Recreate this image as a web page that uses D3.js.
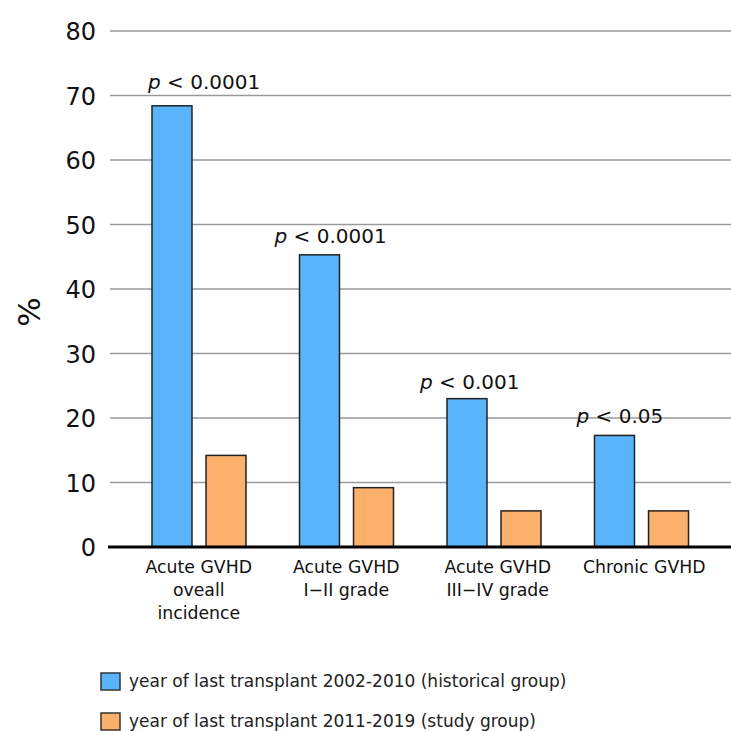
<!DOCTYPE html>
<html><head><meta charset="utf-8">
<script src="https://cdn.jsdelivr.net/npm/d3@7"></script>
<style>body{margin:0;background:#fff}svg{display:block}</style>
</head><body>
<svg id="c" width="731" height="731"></svg>
<script>
const categories = [
  ["Acute GVHD","oveall","incidence"],
  ["Acute GVHD","I\u2212II grade"],
  ["Acute GVHD","III\u2212IV grade"],
  ["Chronic GVHD"]
];
const seriesNames = [
  "year of last transplant 2002-2010 (historical group)",
  "year of last transplant 2011-2019 (study group)"
];
const historical = [68.4, 45.3, 23.0, 17.3];
const study = [14.2, 9.2, 5.6, 5.6];
const pLabels = ["< 0.0001", "< 0.0001", "< 0.001", "< 0.05"];
const yTicks = [0,10,20,30,40,50,60,70,80];

const colors = ["#5ab4fb", "#fbb06c"];
const FONT = "DejaVu Sans, Verdana, sans-serif";
const svg = d3.select("#c");
const y = d3.scaleLinear().domain([0,80]).range([547,31]);
const x0 = d3.scaleBand().domain(d3.range(categories.length)).range([125,715]);
const x1 = d3.scaleBand().domain([0,1]).range([27,121]).paddingInner(0.26);

// gridlines
svg.append("g").selectAll("line").data(yTicks.filter(d=>d>0)).join("line")
  .attr("x1",110).attr("x2",731).attr("y1",d=>y(d)).attr("y2",d=>y(d))
  .attr("stroke","#9a9a9a").attr("stroke-width",1.6);

// y axis labels
const yAxis = d3.axisLeft(y).tickValues(yTicks).tickSize(0).tickPadding(0);
const ga = svg.append("g").attr("transform","translate(96,0)").call(yAxis);
ga.select(".domain").remove();
ga.selectAll("text").attr("font-family",FONT).attr("font-size",24).attr("fill","#111").attr("dy","0.36em");

// % label
svg.append("text").attr("transform","translate(40,312) rotate(-90)").attr("text-anchor","middle")
  .attr("font-family",FONT).attr("font-size",31).attr("fill","#111").text("%");

// bars
const series = [historical, study];
const g = svg.append("g");
series.forEach((vals, si) => {
  g.append("g").selectAll("rect").data(vals).join("rect")
    .attr("x",(d,i)=>x0(i)+x1(si))
    .attr("width",x1.bandwidth())
    .attr("y",d=>y(d))
    .attr("height",d=>y(0)-y(d))
    .attr("fill",colors[si]).attr("stroke","#222").attr("stroke-width",1.5);
});

// baseline
svg.append("line").attr("x1",108).attr("x2",731).attr("y1",y(0)).attr("y2",y(0))
  .attr("stroke","#000").attr("stroke-width",3);

// p labels
const pDx = [-4,-25,-27,-18];
const pDy = [-17,-12,-10,-12];
const pg = svg.append("g");
pLabels.forEach((t,i)=>{
  const tx = pg.append("text")
    .attr("x", x0(i)+x1(0)+pDx[i])
    .attr("y", y(historical[i]) + pDy[i])
    .attr("font-family",FONT).attr("font-size",20).attr("fill","#111");
  tx.append("tspan").attr("font-style","italic").text("p");
  tx.append("tspan").text(" " + t);
});

// category labels
const catDx = [0,0,4,3];
categories.forEach((lines,i)=>{
  const t = svg.append("text").attr("text-anchor","middle")
    .attr("font-family",FONT).attr("font-size",17.3).attr("fill","#111");
  lines.forEach((l,j)=>{
    t.append("tspan").attr("x", x0(i)+x0.bandwidth()/2 + catDx[i]).attr("y", 573 + j*23).text(l);
  });
});

// legend
seriesNames.forEach((n,i)=>{
  const ly = 673 + i*40;
  svg.append("rect").attr("x",101).attr("y",ly).attr("width",19).attr("height",17)
    .attr("fill",colors[i]).attr("stroke","#333").attr("stroke-width",1.5);
  svg.append("text").attr("x",129).attr("y",ly+14)
    .attr("font-family",FONT).attr("font-size",17).attr("fill","#222").text(n);
});
</script>
</body></html>
